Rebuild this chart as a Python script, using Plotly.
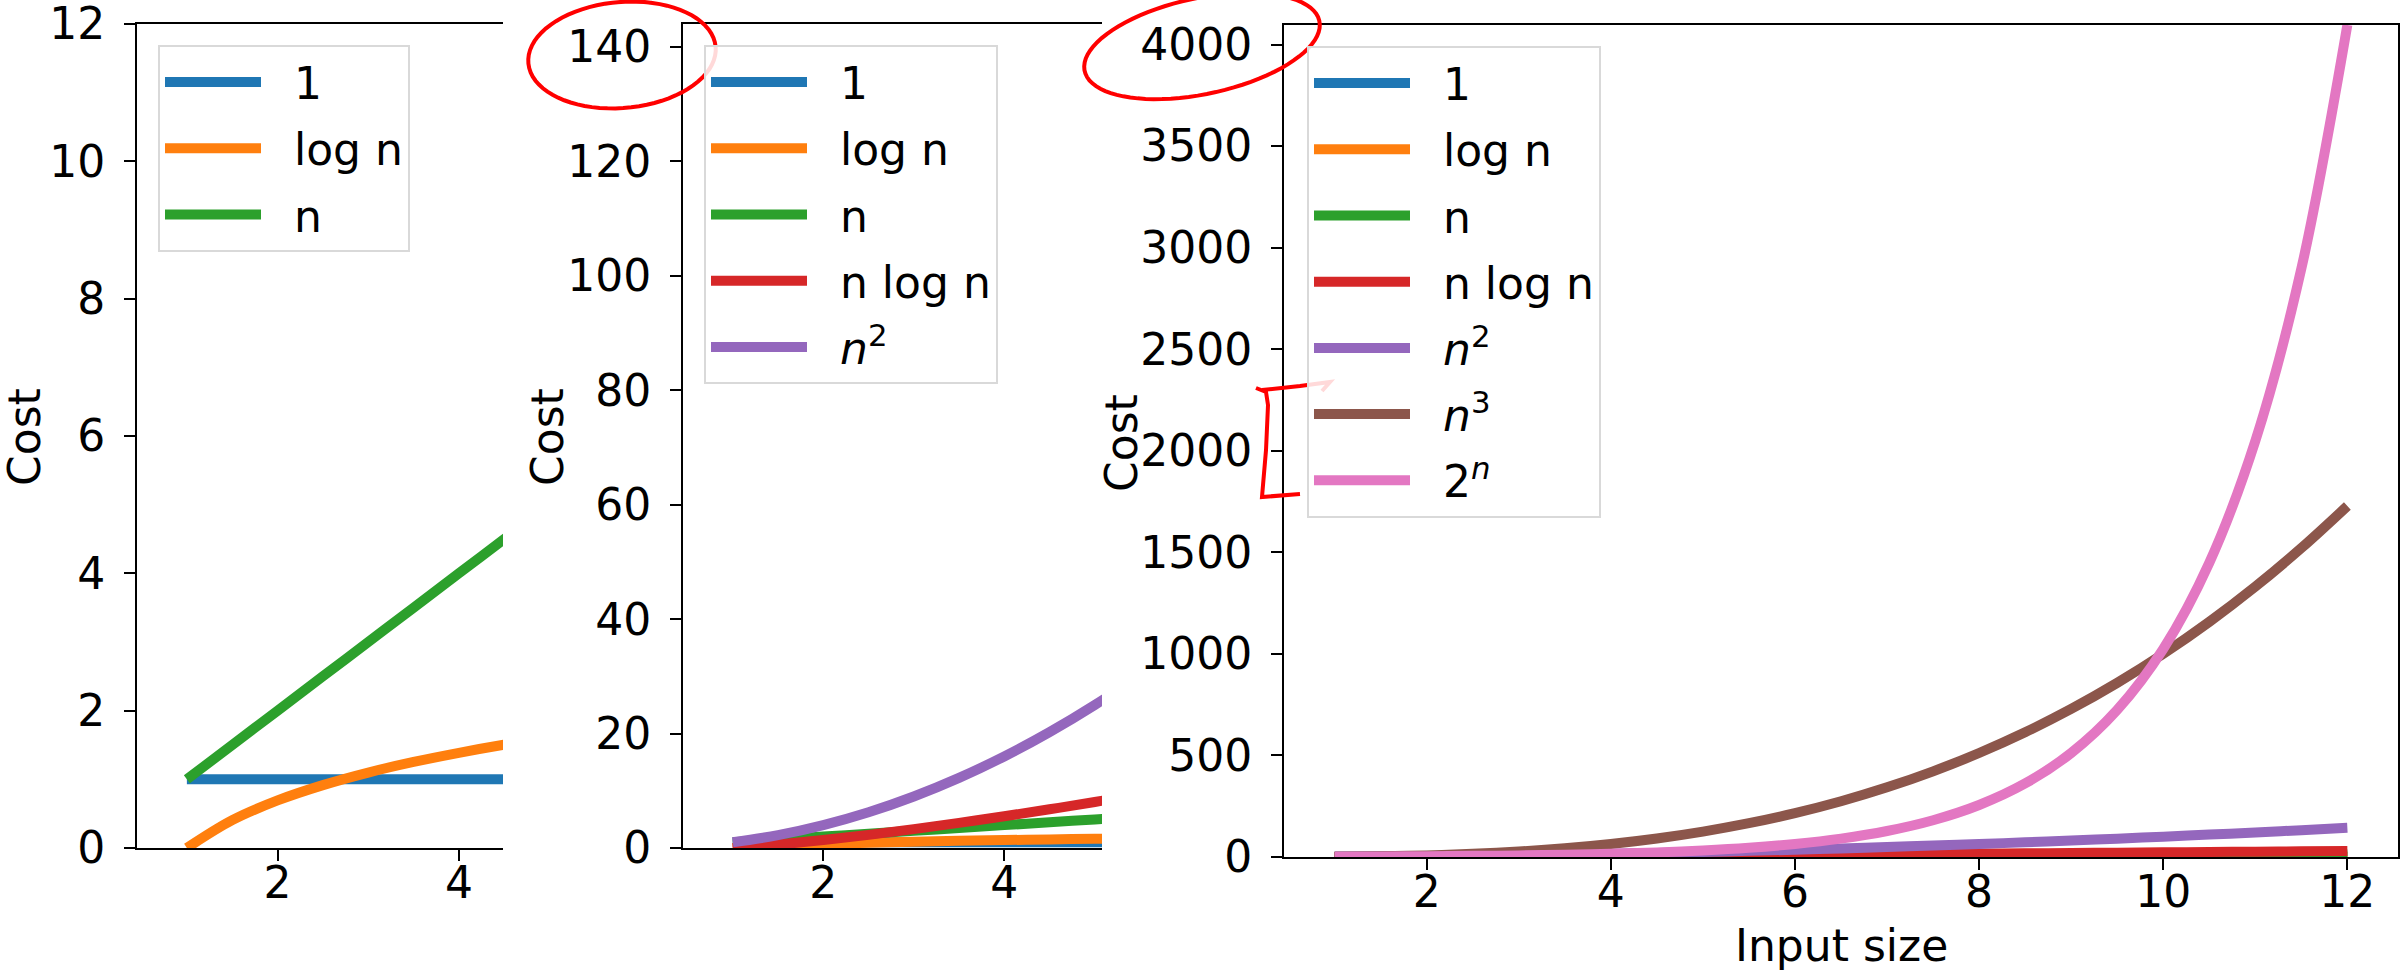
import math
import plotly.graph_objects as go

W, H = 2407, 972

# ---------------- data ----------------
n_vals = [1, 1.5, 2, 2.5, 3, 3.5, 4, 4.5, 5, 5.5, 6, 6.5, 7, 7.5, 8, 8.5, 9, 9.5,
          10, 10.5, 11, 11.5, 12]
cost_const = [1, 1, 1, 1, 1, 1, 1, 1, 1, 1, 1, 1, 1, 1, 1, 1, 1, 1, 1, 1, 1, 1, 1]
cost_log = [0, 0.405, 0.693, 0.916, 1.099, 1.253, 1.386, 1.504, 1.609, 1.705, 1.792,
            1.872, 1.946, 2.015, 2.079, 2.140, 2.197, 2.251, 2.303, 2.351, 2.398,
            2.442, 2.485]
cost_lin = [1, 1.5, 2, 2.5, 3, 3.5, 4, 4.5, 5, 5.5, 6, 6.5, 7, 7.5, 8, 8.5, 9, 9.5,
            10, 10.5, 11, 11.5, 12]
cost_nlogn = [0, 0.608, 1.386, 2.291, 3.296, 4.385, 5.545, 6.768, 8.047, 9.376,
              10.751, 12.167, 13.621, 15.112, 16.636, 18.191, 19.775, 21.387, 23.026,
              24.690, 26.377, 28.087, 29.819]
cost_sq = [1, 2.25, 4, 6.25, 9, 12.25, 16, 20.25, 25, 30.25, 36, 42.25, 49, 56.25, 64,
           72.25, 81, 90.25, 100, 110.25, 121, 132.25, 144]
cost_cube = [1, 3.375, 8, 15.625, 27, 42.875, 64, 91.125, 125, 166.375, 216, 274.625,
             343, 421.875, 512, 614.125, 729, 857.375, 1000, 1157.625, 1331, 1520.875,
             1728]
cost_exp = [2, 2.828, 4, 5.657, 8, 11.314, 16, 22.627, 32, 45.255, 64, 90.51, 128,
            181.02, 256, 362.04, 512, 724.08, 1024, 1448.15, 2048, 2896.31, 4096]

series_names = ["1", "log n", "n", "n log n", "<i>n</i><sup>2</sup>",
                "<i>n</i><sup>3</sup>", "2<sup><i>n</i></sup>"]
series_vals = [cost_const, cost_log, cost_lin, cost_nlogn, cost_sq, cost_cube, cost_exp]
colors = ["#1f77b4", "#ff7f0e", "#2ca02c", "#d62728", "#9467bd", "#8c564b", "#e377c2"]

y1_ticks = [0, 2, 4, 6, 8, 10, 12]
y2_ticks = [0, 20, 40, 60, 80, 100, 120, 140]
y3_ticks = [0, 500, 1000, 1500, 2000, 2500, 3000, 3500, 4000]
x12_ticks = [2, 4]
x3_ticks = [2, 4, 6, 8, 10, 12]

FONT = "DejaVu Sans"
FS = 44
GAP = "\u00a0\u00a0"   # space between legend line sample and its label
XSTAND = -16


def px(x):
    return x / W


def py(y):
    return 1 - y / H


fig = go.Figure()

panels = [("x", "y", "legend", 3), ("x2", "y2", "legend2", 5), ("x3", "y3", "legend3", 7)]
for p, (xa, ya, lg, k) in enumerate(panels):
    for i in range(k):
        fig.add_trace(go.Scatter(
            x=n_vals, y=series_vals[i], mode="lines",
            line=dict(color=colors[i], width=10, shape="spline"),
            name=GAP + series_names[i], xaxis=xa, yaxis=ya, legend=lg,
            legendgroup=f"p{p}s{i}", hoverinfo="skip"))

axis_common = dict(showline=True, linecolor="black", linewidth=2, ticks="outside",
                   ticklen=11, tickwidth=2, tickcolor="black", showgrid=False,
                   zeroline=False, automargin=False, ticklabeloverflow="allow",
                   tickfont=dict(family=FONT, size=FS, color="black"))

fig.update_layout(
    width=W, height=H, margin=dict(l=0, r=0, t=0, b=0, autoexpand=False),
    paper_bgcolor="white", plot_bgcolor="white",
    font=dict(family=FONT, size=FS, color="black"),
    xaxis=dict(domain=[px(137), px(503)], range=[0.45, 4.486], tickvals=x12_ticks,
               mirror=True, anchor="y", ticklabelstandoff=XSTAND, **axis_common),
    yaxis=dict(domain=[py(848), py(24)], range=[0, 12], tickvals=y1_ticks,
               anchor="x", ticklabelstandoff=10, **axis_common),
    xaxis2=dict(domain=[px(683), px(1102)], range=[0.45, 5.08], tickvals=x12_ticks,
                mirror=True, anchor="y2", ticklabelstandoff=XSTAND, **axis_common),
    yaxis2=dict(domain=[py(848), py(24)], range=[0, 144], tickvals=y2_ticks,
                anchor="x2", ticklabelstandoff=10, **axis_common),
    xaxis3=dict(domain=[px(1284), px(2398)], range=[0.45, 12.55], tickvals=x3_ticks,
                mirror=True, anchor="y3", ticklabelstandoff=XSTAND, **axis_common),
    yaxis3=dict(domain=[py(857), py(25)], range=[0, 4096], tickvals=y3_ticks,
                mirror=True, anchor="x3", ticklabelstandoff=10, **axis_common),
)

legend_common = dict(xanchor="left", yanchor="top", bgcolor="rgba(255,255,255,0.85)",
                     bordercolor="#d9d9d9", borderwidth=2, itemwidth=96,
                     tracegroupgap=6, font=dict(family=FONT, size=FS, color="black"))
fig.update_layout(
    legend=dict(x=px(158), y=py(45), **legend_common),
    legend2=dict(x=px(704), y=py(45), **legend_common),
    legend3=dict(x=px(1307), y=py(46), **legend_common),
)

# axis titles
ann = [
    dict(text="Cost", x=px(25), y=py(437), textangle=-90),
    dict(text="Cost", x=px(548), y=py(437), textangle=-90),
    dict(text="Cost", x=px(1122), y=py(443), textangle=-90),
    dict(text="Input size", x=px(1841), y=py(945), textangle=0),
]
for a in ann:
    fig.add_annotation(xref="paper", yref="paper", showarrow=False,
                       xanchor="center", yanchor="middle",
                       font=dict(family=FONT, size=FS, color="black"), **a)


# red hand-drawn marks
def ellipse_path(cx, cy, a, b, ang, t0=0.0, t1=2 * math.pi, steps=80):
    th = math.radians(ang)
    pts = []
    for j in range(steps + 1):
        t = t0 + (t1 - t0) * j / steps
        x = cx + a * math.cos(t) * math.cos(th) - b * math.sin(t) * math.sin(th)
        y = cy + a * math.cos(t) * math.sin(th) + b * math.sin(t) * math.cos(th)
        pts.append(f"{px(x):.5f},{py(y):.5f}")
    return "M " + " L ".join(pts)


red = dict(color="#ff0000", width=4)
fig.add_shape(type="path", xref="paper", yref="paper", line=red,
              path=ellipse_path(622, 55, 94, 53, -5, -1.7, 2 * math.pi - 1.2))
fig.add_shape(type="path", xref="paper", yref="paper", line=red,
              path=ellipse_path(1202, 46, 120, 48, -12, -1.4, 2 * math.pi - 1.5))


def poly(points):
    return "M " + " L ".join(f"{px(x):.5f},{py(y):.5f}" for x, y in points)


fig.add_shape(type="path", xref="paper", yref="paper", line=red,
              path=poly([(1256, 388), (1266, 392), (1268, 405), (1266, 450),
                         (1262, 497), (1300, 494)]))
fig.add_shape(type="path", xref="paper", yref="paper", line=red,
              path=poly([(1262, 390), (1300, 386), (1330, 382), (1322, 391)]))

fig.write_html("out.html",
               config={"displayModeBar": False},
               post_script="document.body.style.margin='0px';"
                           "document.body.style.overflow='hidden';")
